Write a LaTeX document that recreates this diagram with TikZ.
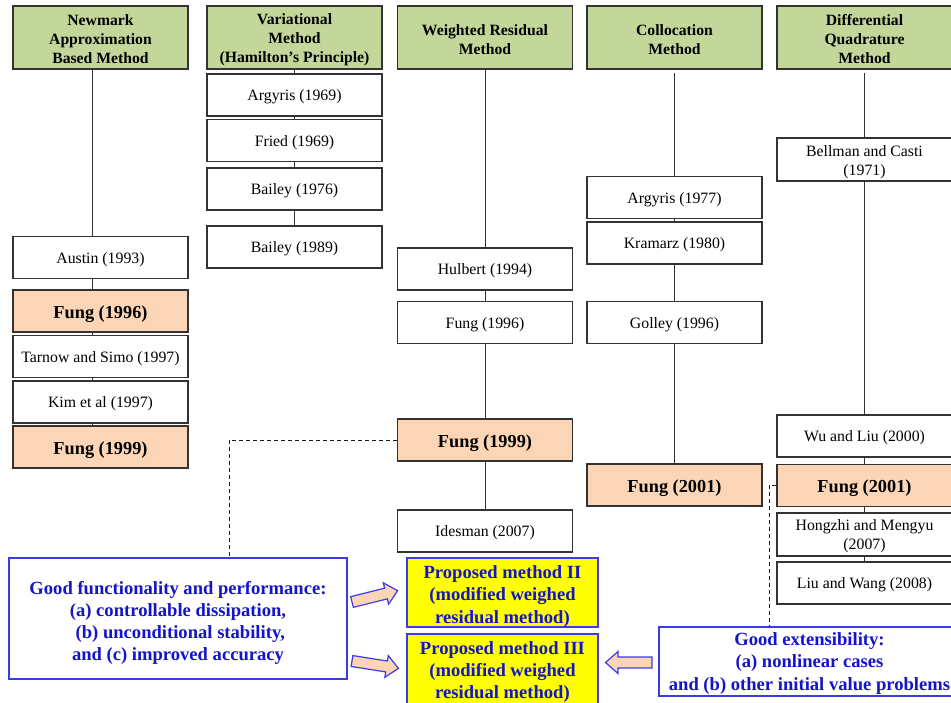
\documentclass[tikz,border=0pt]{standalone}
\usepackage{fontspec}
\setmainfont{Liberation Serif}
\definecolor{hdrgreen}{HTML}{C4D79B}
\definecolor{peach}{HTML}{FBD5B5}
\definecolor{bluetxt}{HTML}{1414C8}
\definecolor{blueline}{HTML}{3C3CE6}
\definecolor{ylw}{HTML}{FFFF00}
\tikzset{
  cbox/.style={draw=black!80, line width=1.2pt, minimum width=175pt, inner sep=0pt, align=center, text height=15pt, font=\fontsize{15.8}{19}\selectfont},
  hdr/.style={cbox, fill=hdrgreen, minimum height=63pt, text height=52.7pt, font=\bfseries\fontsize{15.7}{19}\selectfont},
  wbox/.style={cbox, fill=white, minimum height=42pt},
  pbox/.style={cbox, fill=peach, minimum height=42pt, text height=18.7pt, font=\bfseries\fontsize{18.3}{22}\selectfont},
  bluebox/.style={draw=blueline, line width=1.3pt, inner sep=0pt, align=center, text=bluetxt, font=\bfseries\fontsize{18.6}{22.2}\selectfont},
  ybox/.style={bluebox, fill=ylw, minimum width=191pt},
  link/.style={draw=black!80, line width=1pt},
  dlink/.style={draw=black!90, line width=1pt, dash pattern=on 4pt off 3pt},
  barrow/.style={draw=blueline, fill=peach, line width=1.2pt, line join=miter}
}
\begin{document}
\begin{tikzpicture}[x=1pt,y=-1pt]
\useasboundingbox[fill=white] (0,0) rectangle (951,702);

% Column 1: Newmark
\node[hdr] (h1) at (100.5,37.5) {Newmark\\Approximation\\Based Method};
\node[wbox] (austin) at (100.5,257.5) {Austin (1993)};
\node[pbox] (f96a) at (100.5,311) {Fung (1996)};
\node[wbox] (tarnow) at (100.5,356.5) {Tarnow and Simo (1997)};
\node[wbox] (kim) at (100.5,402) {Kim et al (1997)};
\node[pbox] (f99a) at (100.5,447) {Fung (1999)};
\coordinate (l1) at (92,0);
\draw[link] (h1.south -| l1) -- (austin.north -| l1);
\draw[link] (austin.south -| l1) -- (f96a.north -| l1);
\draw[link] (f96a.south -| l1) -- (tarnow.north -| l1);
\draw[link] (tarnow.south -| l1) -- (kim.north -| l1);
\draw[link] (kim.south -| l1) -- (f99a.north -| l1);

% Column 2: Variational
\node[hdr] (h2) at (294.5,37.5) {Variational\\Method\\(Hamilton’s Principle)};
\node[wbox] (arg69) at (294.5,95) {Argyris (1969)};
\node[wbox] (fried) at (294.5,140.5) {Fried (1969)};
\node[wbox] (b76) at (294.5,189) {Bailey (1976)};
\node[wbox] (b89) at (294.5,247) {Bailey (1989)};
\draw[link] (h2) -- (arg69);
\draw[link] (arg69) -- (fried);
\draw[link] (fried) -- (b76);
\draw[link] (b76) -- (b89);

% Column 3: Weighted residual
\node[hdr, text height=33.7pt] (h3) at (485,37.5) {Weighted Residual\\Method};
\node[wbox] (hulbert) at (485,269) {Hulbert (1994)};
\node[wbox] (fung96) at (485,322.5) {Fung (1996)};
\node[pbox] (f99b) at (485,440) {Fung (1999)};
\node[wbox] (idesman) at (485,531) {Idesman (2007)};
\draw[link] (h3) -- (hulbert);
\draw[link] (hulbert) -- (fung96);
\draw[link] (fung96) -- (f99b);
\draw[link] (f99b) -- (idesman);

% Column 4: Collocation
\node[hdr, text height=33.7pt] (h4) at (674.5,37.5) {Collocation\\Method};
\node[wbox] (arg77) at (674.5,197.5) {Argyris (1977)};
\node[wbox] (kramarz) at (674.5,243) {Kramarz (1980)};
\node[wbox] (golley) at (674.5,322.5) {Golley (1996)};
\node[pbox] (f01a) at (674.5,485) {Fung (2001)};
\coordinate (c4t) at (674.5,73);
\draw[link] (c4t) -- (arg77);
\draw[link] (arg77) -- (kramarz);
\draw[link] (kramarz) -- (golley);
\draw[link] (golley) -- (f01a);

% Column 5: Differential quadrature
\node[hdr] (h5) at (864.5,37.5) {Differential\\Quadrature\\Method};
\node[wbox, minimum height=43pt, text height=36pt] (bellman) at (864.5,159.5) {Bellman and Casti\\(1971)};
\node[wbox] (wu) at (864.5,436) {Wu and Liu (2000)};
\node[pbox] (f01b) at (864.5,485.5) {Fung (2001)};
\node[wbox, minimum height=43pt, text height=34pt] (hongzhi) at (864.5,534.5) {Hongzhi and Mengyu\\(2007)};
\node[wbox] (liuwang) at (864.5,583) {Liu and Wang (2008)};
\coordinate (c5t) at (864,73);
\draw[link] (c5t) -- (bellman.north -| c5t);
\draw[link] (bellman.south -| c5t) -- (wu.north -| c5t);
\draw[link] (wu.south -| c5t) -- (f01b.north -| c5t);
\draw[link] (f01b.south -| c5t) -- (hongzhi.north -| c5t);
\draw[link] (hongzhi.south -| c5t) -- (liuwang.north -| c5t);

% Blue boxes
\node[bluebox, fill=white, minimum width=338pt, minimum height=121pt, text height=88.5pt] (gf) at (178,618.5)
  {Good functionality and performance:\\(a) controllable dissipation,\\\ (b) unconditional stability,\\and (c) improved accuracy};
\node[ybox, minimum height=69pt, text height=65.3pt] (p2) at (502.5,592.5)
  {Proposed method II\\(modified weighed\\residual method)};
\node[ybox, minimum height=70pt, text height=63.3pt] (p3) at (502.5,669)
  {Proposed method III\\(modified weighed\\residual method)};
\node[bluebox, fill=white, minimum width=301pt, minimum height=69pt, text height=61.3pt] (ge) at (809.5,661.5)
  {Good extensibility:\\(a) nonlinear cases\\and (b) other initial value problems};

% Dashed connectors
\coordinate (dl1) at (229,558.5);
\draw[dlink] (f99b.west) -| (dl1);
\coordinate (dl2) at (769,627);
\draw[dlink] (f01b.west) -| (dl2);

% Block arrows
\begin{scope}[shift={(352,602)}, rotate=14]
  \draw[barrow] (0,-5.5) -- (35,-5.5) -- (35,-11) -- (47,0) -- (35,11) -- (35,5.5) -- (0,5.5) -- cycle;
\end{scope}
\begin{scope}[shift={(352,661)}, rotate=-9]
  \draw[barrow] (0,-5.5) -- (35,-5.5) -- (35,-11) -- (47,0) -- (35,11) -- (35,5.5) -- (0,5.5) -- cycle;
\end{scope}
\begin{scope}[shift={(652,662.5)}, rotate=180]
  \draw[barrow] (0,-5.5) -- (34,-5.5) -- (34,-11) -- (46.5,0) -- (34,11) -- (34,5.5) -- (0,5.5) -- cycle;
\end{scope}
\end{tikzpicture}
\end{document}
